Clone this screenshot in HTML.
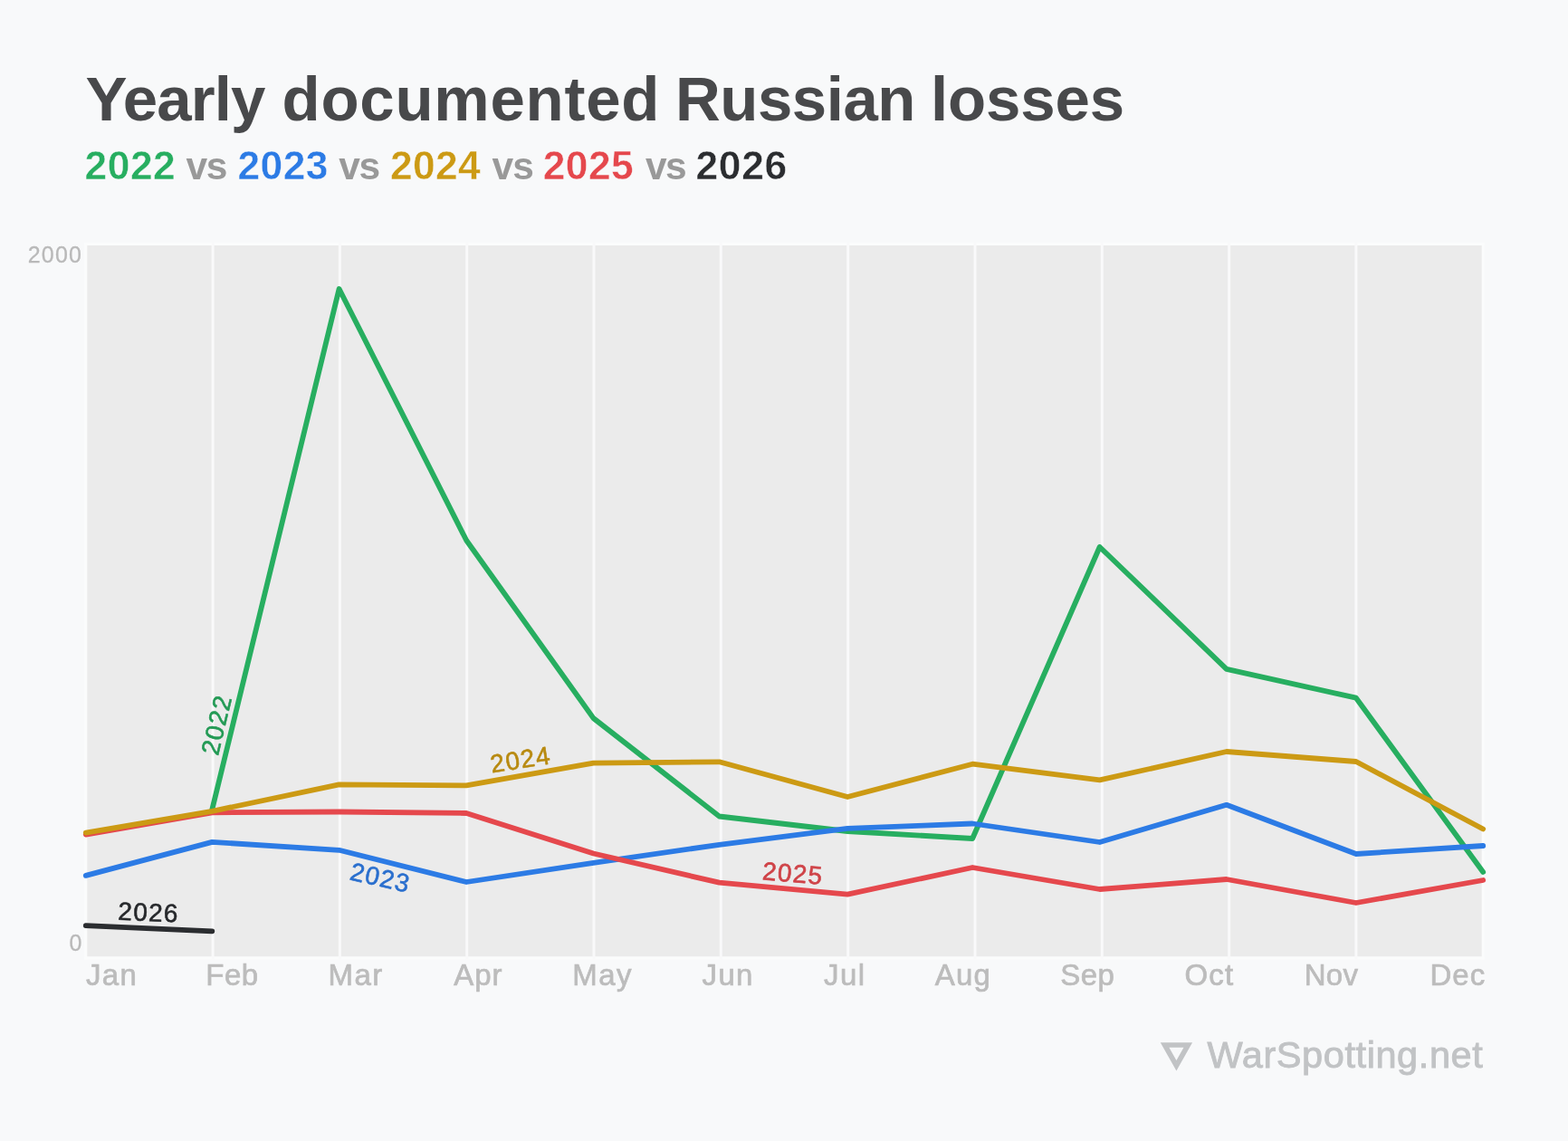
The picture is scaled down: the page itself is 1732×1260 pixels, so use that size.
<!DOCTYPE html>
<html lang="en">
<head>
<meta charset="utf-8">
<title>Yearly documented Russian losses</title>
<style>
html,body{margin:0;padding:0;background:#f8f9fa;overflow:hidden;}
body{width:1732px;height:1260px;background:#f8f9fa;overflow:hidden;position:relative;font-family:"Liberation Sans",Arial,Helvetica,sans-serif;}
.chart{position:absolute;left:0;top:0;filter:blur(0.55px);}
h1,h2,.yaxis,.xaxis,div.w{filter:blur(0.5px);}
.chart text{font-family:"Liberation Sans",Arial,Helvetica,sans-serif;}
h1,h2{margin:0;font-weight:bold;}
span,div.y,div.w{position:absolute;white-space:nowrap;}
.t{font-size:69px;line-height:83px;color:#48494b;font-weight:bold;}
.s{font-weight:bold;}
.m{font-size:33px;line-height:40px;color:#bcbcbc;-webkit-text-stroke:0.7px #bcbcbc;}
.y{font-size:25px;line-height:30px;color:#b9b9b9;-webkit-text-stroke:0.3px #b9b9b9;}
.w{font-size:41.5px;line-height:50px;color:#c1c3c5;-webkit-text-stroke:0.9px #c1c3c5;}
</style>
</head>
<body>
<svg class="chart" width="1732" height="1260" viewBox="0 0 1732 1260">
<rect x="94.8" y="271.0" width="1543.4" height="785.4" fill="#ebebeb"/>
<g stroke="#fbfcfc" stroke-width="3">
<line x1="93.3" y1="269.5" x2="1639.7" y2="269.5"/>
<line x1="93.3" y1="1057.9" x2="1639.7" y2="1057.9"/>
<line x1="94.8" y1="268.0" x2="94.8" y2="1059.4"/>
<line x1="1638.2" y1="268.0" x2="1638.2" y2="1059.4"/>
</g>
<g stroke="#f9f9fa" stroke-width="3">
<line x1="235.1" y1="268.0" x2="235.1" y2="1059.4"/>
<line x1="375.4" y1="268.0" x2="375.4" y2="1059.4"/>
<line x1="515.7" y1="268.0" x2="515.7" y2="1059.4"/>
<line x1="656.0" y1="268.0" x2="656.0" y2="1059.4"/>
<line x1="796.3" y1="268.0" x2="796.3" y2="1059.4"/>
<line x1="936.7" y1="268.0" x2="936.7" y2="1059.4"/>
<line x1="1077.0" y1="268.0" x2="1077.0" y2="1059.4"/>
<line x1="1217.3" y1="268.0" x2="1217.3" y2="1059.4"/>
<line x1="1357.6" y1="268.0" x2="1357.6" y2="1059.4"/>
<line x1="1497.9" y1="268.0" x2="1497.9" y2="1059.4"/>
</g>
<g fill="none" stroke-width="5.8" stroke-linecap="round" stroke-linejoin="round">
<path stroke="#27ae60" d="M234.3,894.0 L374.6,319.0 L515.2,596.8 L655.5,793.1 L794.5,901.5 L936.2,918.0 L1074.2,926.0 L1214.7,604.0 L1354.8,738.8 L1497.9,770.7 L1638.2,963.0"/>
<path stroke="#2c7be5" d="M94.8,966.9 L234.3,929.9 L374.6,938.8 L515.2,974.0 L655.5,952.9 L794.5,932.8 L936.2,914.8 L1074.2,909.5 L1214.7,930.0 L1354.8,888.8 L1497.9,943.0 L1638.2,934.0"/>
<path stroke="#e5484d" d="M94.8,921.6 L234.3,897.3 L374.6,896.5 L515.2,898.0 L655.5,942.5 L794.5,974.7 L936.2,987.6 L1074.2,958.0 L1214.7,982.0 L1354.8,971.0 L1497.9,997.0 L1638.2,972.0"/>
<path stroke="#cc9a14" d="M94.8,919.6 L234.3,895.8 L374.6,866.4 L515.2,867.4 L655.5,842.7 L794.5,841.3 L936.2,880.0 L1074.2,843.7 L1214.7,861.4 L1354.8,830.0 L1497.9,841.0 L1638.2,915.5"/>
<path stroke="#2b2d30" d="M94.8,1022.1 L234.3,1028.4"/>
</g>
<g class="ll" font-size="28" stroke-width="0.6" stroke-linejoin="round">
<text fill="#239a55" stroke="#239a55" letter-spacing="1.25" transform="translate(241.0,833.8) rotate(-76.3)" x="-1.5">2022</text>
<text fill="#2a6fce" stroke="#2a6fce" letter-spacing="1.25" transform="translate(386.7,971.5) rotate(12.6)" x="-1.5">2023</text>
<text fill="#b88a10" stroke="#b88a10" letter-spacing="1.25" transform="translate(544.8,853.3) rotate(-9.0)" x="-1.5">2024</text>
<text fill="#cf4247" stroke="#cf4247" letter-spacing="1.25" transform="translate(842.9,971.4) rotate(4.7)" x="-1.5">2025</text>
<text fill="#26282b" stroke="#26282b" letter-spacing="1.25" transform="translate(131.6,1015.9) rotate(2.2)" x="-1.5">2026</text>
</g>
<path class="wmi" fill="#c1c3c5" fill-rule="evenodd" d="M1281.8,1151.2 L1317.1,1151.2 L1299.45,1182.4 Z M1291.40,1156.80 L1307.50,1156.80 L1299.45,1171.03 Z"/>
</svg>
<h1><span class="t" style="left:94.50px;top:67.50px;letter-spacing:-0.900px;">Yearly</span> <span class="t" style="left:311.50px;top:67.50px;letter-spacing:0.750px;">documented</span> <span class="t" style="left:746.00px;top:67.50px;letter-spacing:-0.500px;">Russian</span> <span class="t" style="left:1028.00px;top:67.50px;letter-spacing:-0.150px;">losses</span></h1>
<h2><span class="s" style="left:93.50px;top:156.00px;letter-spacing:0.500px;font-size:44.4px;line-height:53px;color:#27ae60;-webkit-text-stroke:0.45px #f8f9fa;">2022</span> <span class="s" style="left:205.50px;top:158.00px;letter-spacing:-1.500px;font-size:42.5px;line-height:51px;color:#999999;">vs</span> <span class="s" style="left:262.50px;top:156.00px;letter-spacing:0.417px;font-size:44.4px;line-height:53px;color:#2c7be5;-webkit-text-stroke:0.45px #f8f9fa;">2023</span> <span class="s" style="left:374.25px;top:158.00px;letter-spacing:-1.500px;font-size:42.5px;line-height:51px;color:#999999;">vs</span> <span class="s" style="left:431.00px;top:156.00px;letter-spacing:0.333px;font-size:44.4px;line-height:53px;color:#cc9a14;-webkit-text-stroke:0.45px #f8f9fa;">2024</span> <span class="s" style="left:543.50px;top:158.00px;letter-spacing:-1.000px;font-size:42.5px;line-height:51px;color:#999999;">vs</span> <span class="s" style="left:599.75px;top:156.00px;letter-spacing:0.417px;font-size:44.4px;line-height:53px;color:#e5484d;-webkit-text-stroke:0.45px #f8f9fa;">2025</span> <span class="s" style="left:713.00px;top:158.00px;letter-spacing:-1.750px;font-size:42.5px;line-height:51px;color:#999999;">vs</span> <span class="s" style="left:768.50px;top:156.00px;letter-spacing:0.667px;font-size:44.4px;line-height:53px;color:#2b2d30;-webkit-text-stroke:0.45px #f8f9fa;">2026</span></h2>
<div class="yaxis"><div class="y" style="left:30.85px;top:265.60px;letter-spacing:1.117px;">2000</div><div class="y" style="left:76.40px;top:1026.20px;">0</div></div>
<div class="xaxis"><span class="m" style="left:94.90px;top:1057.25px;letter-spacing:1.350px;">Jan</span><span class="m" style="left:227.25px;top:1057.25px;letter-spacing:0.500px;">Feb</span><span class="m" style="left:362.50px;top:1057.25px;letter-spacing:1.500px;">Mar</span><span class="m" style="left:501.25px;top:1057.25px;letter-spacing:1.000px;">Apr</span><span class="m" style="left:632.25px;top:1057.25px;letter-spacing:1.500px;">May</span><span class="m" style="left:775.50px;top:1057.25px;letter-spacing:1.375px;">Jun</span><span class="m" style="left:910.00px;top:1057.25px;letter-spacing:1.500px;">Jul</span><span class="m" style="left:1032.75px;top:1057.25px;letter-spacing:1.250px;">Aug</span><span class="m" style="left:1171.25px;top:1057.25px;letter-spacing:0.500px;">Sep</span><span class="m" style="left:1308.50px;top:1057.25px;letter-spacing:1.200px;">Oct</span><span class="m" style="left:1440.75px;top:1057.25px;letter-spacing:0.250px;">Nov</span><span class="m" style="left:1579.50px;top:1057.25px;letter-spacing:1.000px;">Dec</span></div>
<div class="w" style="left:1333.60px;top:1139.80px;letter-spacing:0.579px;">WarSpotting.net</div>
</body>
</html>
